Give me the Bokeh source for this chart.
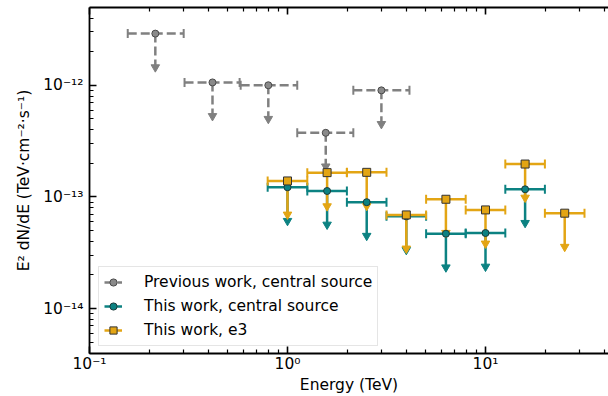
import numpy as np
from bokeh.plotting import figure
from bokeh.models import (Range1d, LogAxis, FixedTicker, CustomJSTickFormatter,
                          ColumnDataSource, Legend, LegendItem)
from bokeh.embed import file_html
from bokeh.resources import INLINE

# ---- data -------------------------------------------------------------
# Previous work, central source (upper limits)
prev_energy = [0.215, 0.418, 0.80, 1.56, 2.98]
prev_e_low = [0.156, 0.302, 0.58, 1.12, 2.15]
prev_e_high = [0.299, 0.573, 1.12, 2.15, 4.13]
prev_flux = [2.90e-12, 1.06e-12, 1.00e-12, 3.75e-13, 9.0e-13]

# This work, central source (upper limits)
cs_energy = [1.0, 1.585, 2.512, 3.981, 6.310, 10.0, 15.85]
cs_e_low = [0.794, 1.259, 1.995, 3.162, 5.012, 7.943, 12.59]
cs_e_high = [1.259, 1.995, 3.162, 5.012, 7.943, 12.59, 19.95]
cs_flux = [1.22e-13, 1.13e-13, 8.97e-14, 6.70e-14, 4.68e-14, 4.75e-14, 1.17e-13]

# This work, e3 (upper limits)
e3_energy = [1.0, 1.585, 2.512, 3.981, 6.310, 10.0, 15.85, 25.12]
e3_e_low = [0.794, 1.259, 1.995, 3.162, 5.012, 7.943, 12.59, 19.95]
e3_e_high = [1.259, 1.995, 3.162, 5.012, 7.943, 12.59, 19.95, 31.62]
e3_flux = [1.39e-13, 1.65e-13, 1.66e-13, 6.90e-14, 9.53e-14, 7.65e-14, 1.97e-13, 7.15e-14]

series_labels = ["Previous work, central source", "This work, central source", "This work, e3"]

x_ticks = [0.1, 1.0, 10.0]
x_tick_labels = ["10\u207b\u00b9", "10\u2070", "10\u00b9"]
y_ticks = [1e-14, 1e-13, 1e-12]
y_tick_labels = ["10\u207b\u00b9\u2074", "10\u207b\u00b9\u00b3", "10\u207b\u00b9\u00b2"]

GREY = "#808080"
TEAL = "#0c8282"
GOLD = "#e3a514"
FONT = "DejaVu Sans"
FONT_SIZE = "15.5px"

# ---- figure -----------------------------------------------------------
p = figure(width=608, height=396, x_axis_type="log", y_axis_type="log",
           x_range=Range1d(0.1, 41.8), y_range=Range1d(3.96e-15, 4.97e-12),
           output_backend="svg", toolbar_location=None,
           min_border_left=89, min_border_right=0, min_border_top=7, min_border_bottom=42)
p.xgrid.visible = False
p.ygrid.visible = False
p.outline_line_color = None
p.background_fill_color = "white"
p.border_fill_color = "white"

bottom_axis = p.below[0]
left_axis = p.left[0]


def minor_ticks(decades):
    return [m * 10.0 ** d for d in decades for m in range(2, 10)]


def formatter(vals, text):
    return CustomJSTickFormatter(args=dict(tick_vals=vals, tick_text=text), code="""
        const i = tick_vals.findIndex(t => Math.abs(Math.log10(t) - Math.log10(tick)) < 1e-6);
        return i >= 0 ? tick_text[i] : "";
    """)


x_ticker = FixedTicker(ticks=x_ticks, minor_ticks=minor_ticks([-1, 0, 1]))
y_ticker = FixedTicker(ticks=y_ticks, minor_ticks=minor_ticks([-15, -14, -13, -12]))

top_axis = LogAxis(ticker=x_ticker)
p.add_layout(top_axis, "above")

for ax in [bottom_axis, left_axis, top_axis]:
    ax.axis_line_width = 1.8
    ax.axis_line_color = "black"
    ax.major_tick_in = 7
    ax.major_tick_out = 0
    ax.minor_tick_in = 4
    ax.minor_tick_out = 0
    ax.major_tick_line_width = 1.6
    ax.minor_tick_line_width = 1.2
    ax.major_tick_line_color = "black"
    ax.minor_tick_line_color = "black"
    ax.major_label_text_font = FONT
    ax.major_label_text_font_size = FONT_SIZE
    ax.major_label_text_color = "black"
    ax.axis_label_text_font = FONT
    ax.axis_label_text_font_size = FONT_SIZE
    ax.axis_label_text_font_style = "normal"
    ax.axis_label_text_color = "black"

bottom_axis.ticker = x_ticker
bottom_axis.formatter = formatter(x_ticks, x_tick_labels)
bottom_axis.major_label_standoff = 1
bottom_axis.axis_label = "Energy (TeV)"
bottom_axis.axis_label_standoff = 0

left_axis.ticker = y_ticker
left_axis.formatter = formatter(y_ticks, y_tick_labels)
left_axis.major_label_standoff = 6
left_axis.axis_label = "E\u00b2 dN/dE (TeV\u00b7cm\u207b\u00b2\u00b7s\u207b\u00b9)"
left_axis.axis_label_standoff = 7

top_axis.formatter = CustomJSTickFormatter(code="return '';")
top_axis.major_label_standoff = 0
top_axis.major_label_text_font_size = "0px"

# ---- error bars with upper-limit arrows ---------------------------------
def make_source(x, lo, hi, y):
    return ColumnDataSource(dict(x=x, lo=lo, hi=hi, y=y, ul=[v * 0.5 for v in y]))


sources = [make_source(prev_energy, prev_e_low, prev_e_high, prev_flux),
           make_source(cs_energy, cs_e_low, cs_e_high, cs_flux),
           make_source(e3_energy, e3_e_low, e3_e_high, e3_flux)]
colors = [GREY, TEAL, GOLD]
dashes = ["9 4", "solid", "solid"]

hbars = []
for src, col, dash in zip(sources, colors, dashes):
    hb = p.segment(x0="lo", y0="y", x1="hi", y1="y", source=src,
                   line_color=col, line_width=2.5, line_dash=dash)
    hbars.append(hb)
    p.segment(x0="x", y0="y", x1="x", y1="ul", source=src,
              line_color=col, line_width=2.5, line_dash=dash)
    for end in ["lo", "hi"]:
        p.scatter(x=end, y="y", source=src, marker="dash", angle=np.pi / 2,
                  size=9, line_color=col, line_width=2)
    p.scatter(x="x", y="ul", source=src, marker="inverted_triangle", size=8.5,
              fill_color=col, line_color=col, line_width=1)

# ---- data markers (drawn on top of all bars) ----------------------------
m_prev = p.scatter(x="x", y="y", source=sources[0], marker="circle", size=7,
                   fill_color="#8a8a8a", line_color="#4a4a4a", line_width=1)
m_cs = p.scatter(x="x", y="y", source=sources[1], marker="circle", size=7,
                 fill_color=TEAL, line_color="#1d3b3b", line_width=1)
m_e3 = p.scatter(x="x", y="y", source=sources[2], marker="square", size=8,
                 fill_color=GOLD, line_color="#333333", line_width=1)

legend = Legend(items=[LegendItem(label=series_labels[0], renderers=[hbars[0], m_prev]),
                       LegendItem(label=series_labels[1], renderers=[hbars[1], m_cs]),
                       LegendItem(label=series_labels[2], renderers=[hbars[2], m_e3])],
                location=(9, 7), margin=0, padding=5, spacing=4,
                glyph_width=18, glyph_height=18, label_height=20, label_standoff=22,
                label_text_font=FONT, label_text_font_size=FONT_SIZE, label_text_color="black",
                border_line_color="#cccccc", border_line_width=1,
                background_fill_color="white", background_fill_alpha=0.85)
p.add_layout(legend)

open("out.html", "w").write(file_html(p, INLINE))
